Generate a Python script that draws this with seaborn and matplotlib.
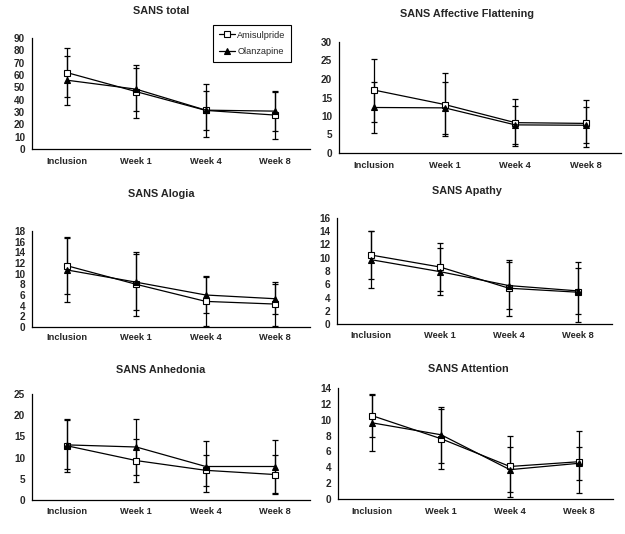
import numpy as np
import pandas as pd
import matplotlib
matplotlib.use("Agg")
import matplotlib.pyplot as plt
import seaborn as sns
from matplotlib.lines import Line2D

sns.set_theme(style="white")
plt.rcParams['font.family'] = ['Liberation Sans', 'DejaVu Sans']

categories = ['Inclusion', 'Week 1', 'Week 4', 'Week 8']
series_names = ['Amisulpride', 'Olanzapine']

total_ami = [62.0, 46.5, 31.3, 27.5]
total_ami_err = [19.6, 21.5, 21.5, 19.0]
total_olz = [55.8, 48.5, 31.5, 30.7]
total_olz_err = [20.0, 17.5, 15.8, 16.0]

aff_ami = [17.0, 13.1, 8.2, 8.0]
aff_ami_err = [8.5, 8.5, 6.4, 6.4]
aff_olz = [12.3, 12.2, 7.6, 7.5]
aff_olz_err = [7.0, 7.0, 5.1, 4.8]

alogia_ami = [11.5, 8.0, 4.8, 4.3]
alogia_ami_err = [5.4, 6.0, 4.7, 4.1]
alogia_olz = [10.7, 8.4, 6.0, 5.3]
alogia_olz_err = [6.0, 5.2, 3.4, 2.8]

apathy_ami = [10.4, 8.6, 5.4, 4.8]
apathy_ami_err = [3.6, 3.6, 4.2, 4.5]
apathy_olz = [9.7, 7.9, 5.8, 5.0]
apathy_olz_err = [4.3, 3.5, 3.6, 3.5]

anhed_ami = [12.8, 9.3, 7.0, 6.0]
anhed_ami_err = [6.3, 5.1, 3.6, 4.6]
anhed_olz = [13.0, 12.5, 7.9, 7.9]
anhed_olz_err = [5.8, 6.5, 5.9, 6.2]

attn_ami = [10.5, 7.6, 4.1, 4.7]
attn_ami_err = [2.7, 3.8, 3.9, 3.9]
attn_olz = [9.6, 8.1, 3.7, 4.5]
attn_olz_err = [3.5, 3.5, 2.8, 2.1]

titles = ['SANS total', 'SANS Affective Flattening', 'SANS Alogia',
          'SANS Apathy', 'SANS Anhedonia', 'SANS Attention']
ymax = [90, 30, 18, 16, 25, 14]
ystep = [10, 5, 2, 2, 5, 2]

panels = [
    (total_ami, total_ami_err, total_olz, total_olz_err),
    (aff_ami, aff_ami_err, aff_olz, aff_olz_err),
    (alogia_ami, alogia_ami_err, alogia_olz, alogia_olz_err),
    (apathy_ami, apathy_ami_err, apathy_olz, apathy_olz_err),
    (anhed_ami, anhed_ami_err, anhed_olz, anhed_olz_err),
    (attn_ami, attn_ami_err, attn_olz, attn_olz_err),
]

W, H = 625, 534
# pixel boxes: left, right, top, bottom
boxes = [
    (32, 310, 38, 149),
    (339, 621, 42, 153),
    (32, 310, 231, 327),
    (337, 612, 218, 324),
    (32, 310, 394, 500),
    (338, 613, 388, 499),
]
title_pos = [(161, 11), (467, 14), (161, 194), (467, 191), (161, 370), (468, 369)]
xlab_y = [161, 165, 338, 336, 512, 512]

fig = plt.figure(figsize=(W / 100, H / 100), dpi=100)
fig.patch.set_facecolor('white')

styles = {
    'Amisulpride': dict(marker='s', markerfacecolor='white', markeredgecolor='black',
                        markersize=4.8, markeredgewidth=0.8),
    'Olanzapine': dict(marker='^', markerfacecolor='black', markeredgecolor='black',
                       markersize=4.8, markeredgewidth=0.8),
}

x = np.arange(len(categories))
for i, (ami, ami_e, olz, olz_e) in enumerate(panels):
    l, r, t, b = boxes[i]
    ax = fig.add_axes([l / W, 1 - b / H, (r - l) / W, (b - t) / H])
    ax.set_facecolor('white')
    df = pd.DataFrame({
        'pos': np.concatenate([x, x]),
        'cat': categories * 2,
        'value': list(ami) + list(olz),
        'err': list(ami_e) + list(olz_e),
        'drug': ['Amisulpride'] * 4 + ['Olanzapine'] * 4,
    })
    for name in series_names:
        d = df[df['drug'] == name]
        ax.errorbar(d['pos'], d['value'], yerr=d['err'], fmt='none', ecolor='black',
                    elinewidth=0.9, capsize=2.4, capthick=0.9, zorder=2)
    for name in series_names:
        d = df[df['drug'] == name]
        sns.lineplot(data=d, x='pos', y='value', ax=ax, color='black', lw=0.9,
                     zorder=3, legend=False, **styles[name])
    ax.set_xlim(-0.5, 3.5)
    ax.set_ylim(0, ymax[i])
    ax.set_yticks(np.arange(0, ymax[i] + 0.1, ystep[i]))
    ax.set_xticks(x)
    ax.set_xticklabels([])
    ax.set_xticks(np.arange(-0.5, 3.6, 1.0), minor=True)
    ax.tick_params(axis='x', which='major', length=0)
    ax.tick_params(axis='x', which='minor', length=3, width=0.8, direction='out', color='black')
    ax.tick_params(axis='y', which='major', length=3, width=0.8, direction='out', color='black',
                   labelsize=7.2, pad=2)
    for lab in ax.get_yticklabels():
        lab.set_fontweight('bold')
    ax.set_xlabel('')
    ax.set_ylabel('')
    for s in ['top', 'right']:
        ax.spines[s].set_visible(False)
    for s in ['left', 'bottom']:
        ax.spines[s].set_color('black')
        ax.spines[s].set_linewidth(0.9)
    # category labels
    for j, c in enumerate(categories):
        xf = (l + (r - l) * (j + 0.5) / 4) / W
        fig.text(xf, 1 - xlab_y[i] / H, c, ha='center', va='center', fontsize=6.7,
                 fontweight='bold')
    tx, ty = title_pos[i]
    fig.text(tx / W, 1 - ty / H, titles[i], ha='center', va='center', fontsize=7.8,
             fontweight='bold')
    if i == 0:
        handles = [Line2D([0], [0], color='black', lw=0.9, **styles[n]) for n in series_names]
        leg = ax.legend(handles, series_names, loc='upper left',
                        bbox_to_anchor=((213 - l) / (r - l), 1 - (25 - t) / (b - t)),
                        frameon=True, fancybox=False, edgecolor='black', framealpha=1,
                        fontsize=6.6, handlelength=1.8, handletextpad=0.25,
                        borderpad=0.6, labelspacing=0.85, borderaxespad=0)
        leg.get_frame().set_linewidth(0.8)

fig.savefig('out.png', dpi=100, facecolor='white')
